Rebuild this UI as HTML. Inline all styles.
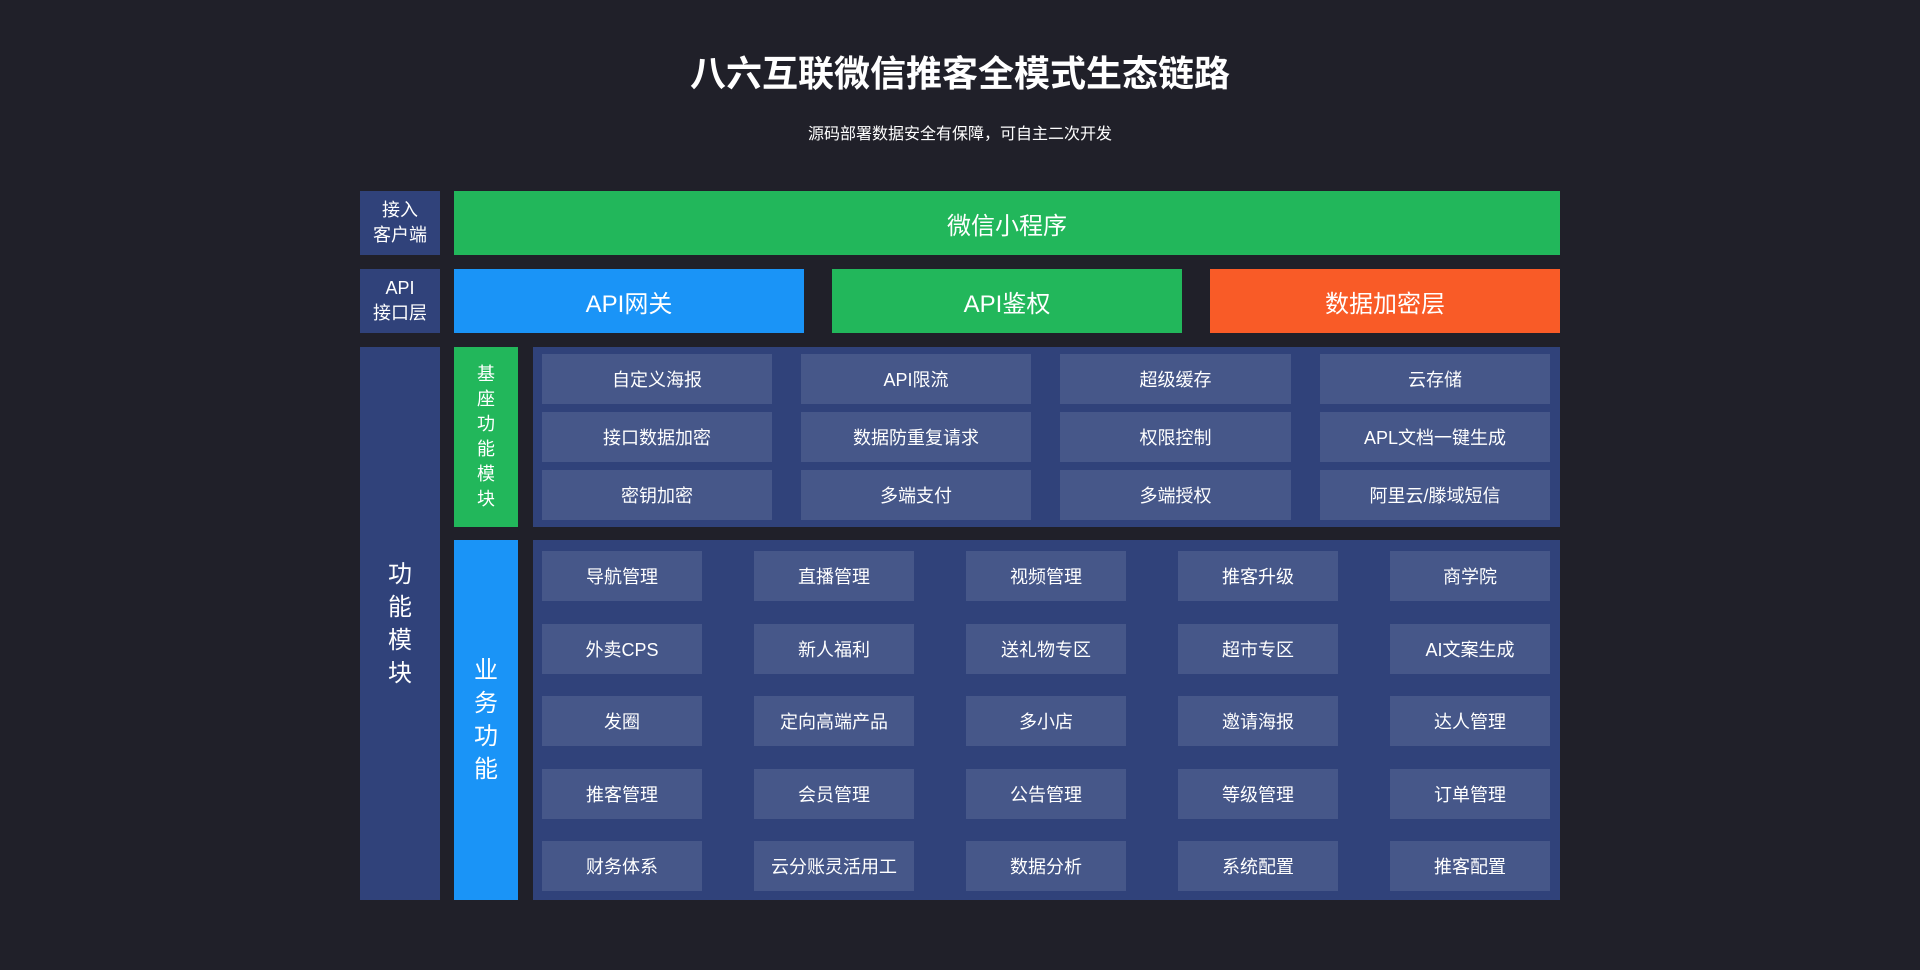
<!DOCTYPE html>
<html><head><meta charset="utf-8"><style>
*{margin:0;padding:0;box-sizing:border-box}
body{width:1920px;height:970px;background:#202029;font-family:"Liberation Sans","Noto Sans CJK SC",sans-serif;color:#fff;position:relative;overflow:hidden}
.a{position:absolute;display:flex;align-items:center;justify-content:center;text-align:center}
.lab{background:#30427a;font-size:18px;line-height:25px}
.c{background:#465789;font-size:18px}
.p{background:#30427a}
.big{font-size:24px}
</style></head><body>
<div class="a" style="left:0;width:1920px;top:48px;height:46px;font-size:36px;font-weight:bold">八六互联微信推客全模式生态链路</div>
<div class="a" style="left:0;width:1920px;top:120px;height:24px;font-size:16px">源码部署数据安全有保障，可自主二次开发</div>

<div class="a lab" style="left:360px;top:191px;width:80px;height:64px">接入<br>客户端</div>
<div class="a big" style="left:454px;top:191px;width:1106px;height:64px;background:#22b75b">微信小程序</div>

<div class="a lab" style="left:360px;top:269px;width:80px;height:64px">API<br>接口层</div>
<div class="a big" style="left:454px;top:269px;width:350px;height:64px;background:#1a94f7">API网关</div>
<div class="a big" style="left:832px;top:269px;width:350px;height:64px;background:#22b75b">API鉴权</div>
<div class="a big" style="left:1210px;top:269px;width:350px;height:64px;background:#f95b27">数据加密层</div>

<div class="a lab" style="left:360px;top:347px;width:80px;height:553px;font-size:24px;line-height:33px">功<br>能<br>模<br>块</div>

<div class="a" style="left:454px;top:347px;width:64px;height:180px;background:#22b75b;font-size:18px;line-height:25px">基<br>座<br>功<br>能<br>模<br>块</div>
<div class="a p" style="left:533px;top:347px;width:1027px;height:180px"></div>
<div class="a c" style="left:542px;top:354px;width:230px;height:50px">自定义海报</div>
<div class="a c" style="left:801px;top:354px;width:230px;height:50px">API限流</div>
<div class="a c" style="left:1060px;top:354px;width:231px;height:50px">超级缓存</div>
<div class="a c" style="left:1320px;top:354px;width:230px;height:50px">云存储</div>
<div class="a c" style="left:542px;top:412px;width:230px;height:50px">接口数据加密</div>
<div class="a c" style="left:801px;top:412px;width:230px;height:50px">数据防重复请求</div>
<div class="a c" style="left:1060px;top:412px;width:231px;height:50px">权限控制</div>
<div class="a c" style="left:1320px;top:412px;width:230px;height:50px">APL文档一键生成</div>
<div class="a c" style="left:542px;top:470px;width:230px;height:50px">密钥加密</div>
<div class="a c" style="left:801px;top:470px;width:230px;height:50px">多端支付</div>
<div class="a c" style="left:1060px;top:470px;width:231px;height:50px">多端授权</div>
<div class="a c" style="left:1320px;top:470px;width:230px;height:50px">阿里云/滕域短信</div>

<div class="a" style="left:454px;top:540px;width:64px;height:360px;background:#1a94f7;font-size:24px;line-height:33px">业<br>务<br>功<br>能</div>
<div class="a p" style="left:533px;top:540px;width:1027px;height:360px"></div>

<div class="a c" style="left:542px;top:551px;width:160px;height:50px">导航管理</div>
<div class="a c" style="left:754px;top:551px;width:160px;height:50px">直播管理</div>
<div class="a c" style="left:966px;top:551px;width:160px;height:50px">视频管理</div>
<div class="a c" style="left:1178px;top:551px;width:160px;height:50px">推客升级</div>
<div class="a c" style="left:1390px;top:551px;width:160px;height:50px">商学院</div>

<div class="a c" style="left:542px;top:624px;width:160px;height:50px">外卖CPS</div>
<div class="a c" style="left:754px;top:624px;width:160px;height:50px">新人福利</div>
<div class="a c" style="left:966px;top:624px;width:160px;height:50px">送礼物专区</div>
<div class="a c" style="left:1178px;top:624px;width:160px;height:50px">超市专区</div>
<div class="a c" style="left:1390px;top:624px;width:160px;height:50px">AI文案生成</div>

<div class="a c" style="left:542px;top:696px;width:160px;height:50px">发圈</div>
<div class="a c" style="left:754px;top:696px;width:160px;height:50px">定向高端产品</div>
<div class="a c" style="left:966px;top:696px;width:160px;height:50px">多小店</div>
<div class="a c" style="left:1178px;top:696px;width:160px;height:50px">邀请海报</div>
<div class="a c" style="left:1390px;top:696px;width:160px;height:50px">达人管理</div>

<div class="a c" style="left:542px;top:769px;width:160px;height:50px">推客管理</div>
<div class="a c" style="left:754px;top:769px;width:160px;height:50px">会员管理</div>
<div class="a c" style="left:966px;top:769px;width:160px;height:50px">公告管理</div>
<div class="a c" style="left:1178px;top:769px;width:160px;height:50px">等级管理</div>
<div class="a c" style="left:1390px;top:769px;width:160px;height:50px">订单管理</div>

<div class="a c" style="left:542px;top:841px;width:160px;height:50px">财务体系</div>
<div class="a c" style="left:754px;top:841px;width:160px;height:50px">云分账灵活用工</div>
<div class="a c" style="left:966px;top:841px;width:160px;height:50px">数据分析</div>
<div class="a c" style="left:1178px;top:841px;width:160px;height:50px">系统配置</div>
<div class="a c" style="left:1390px;top:841px;width:160px;height:50px">推客配置</div>
</body></html>
